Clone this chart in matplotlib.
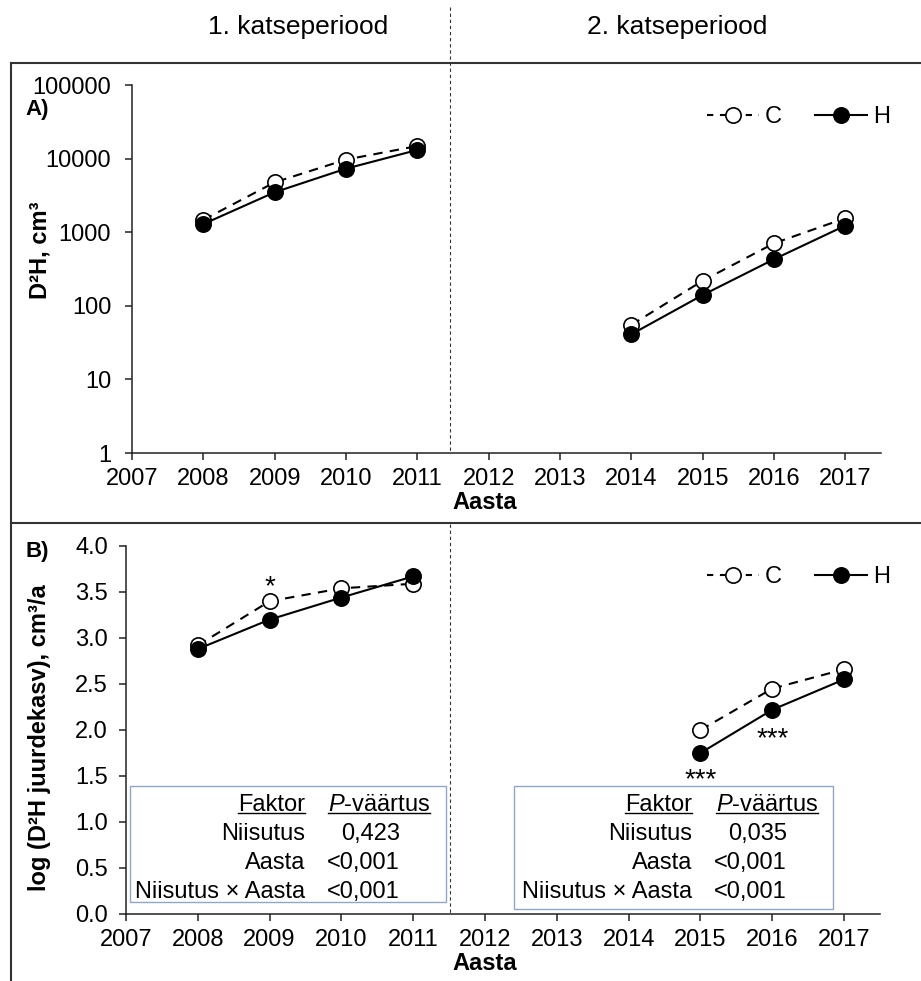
"""Tree size (D2H) and its yearly increment for the two study periods."""

import matplotlib
matplotlib.use("Agg")
import matplotlib.pyplot as plt
from matplotlib.lines import Line2D
from matplotlib.patches import Rectangle


W, H = 921, 981

years_p1 = [2008, 2009, 2010, 2011]
years_p2 = [2014, 2015, 2016, 2017]
d2h_c_p1 = [1470, 4760, 9700, 14800]
d2h_h_p1 = [1290, 3490, 7300, 13100]
d2h_c_p2 = [55, 219, 706, 1550]
d2h_h_p2 = [41, 140, 429, 1230]

growth_years_p2 = [2015, 2016, 2017]
growth_c_p1 = [2.92, 3.40, 3.54, 3.59]
growth_h_p1 = [2.88, 3.20, 3.44, 3.67]
growth_c_p2 = [2.00, 2.45, 2.66]
growth_h_p2 = [1.75, 2.22, 2.55]

year_ticks = list(range(2007, 2018))
d2h_ticks = [1, 10, 100, 1000, 10000, 100000]
growth_ticks = [0.0, 0.5, 1.0, 1.5, 2.0, 2.5, 3.0, 3.5, 4.0]

period_titles = ["1. katseperiood", "2. katseperiood"]
factors = ["Niisutus", "Aasta", "Niisutus × Aasta"]
p_values_p1 = ["0,423", "<0,001", "<0,001"]
p_values_p2 = ["0,035", "<0,001", "<0,001"]

FS = 17

KW_C = dict(color="black", lw=1.5, ls="--", dashes=(4.5, 3.5), marker="o", ms=11,
            mfc="white", mec="black", mew=1.2)
KW_H = dict(color="black", lw=1.5, ls="-", marker="o", ms=11,
            mfc="black", mec="black", mew=1.2)


def fx(x):
    return x / W


def fy(y):
    return 1 - y / H


def style_axis(ax):
    for side in ("top", "right"):
        ax.spines[side].set_visible(False)
    for side in ("left", "bottom"):
        ax.spines[side].set_linewidth(1.1)
        ax.spines[side].set_color("#222222")
    ax.tick_params(direction="out", length=5, width=1.1, color="#222222", labelsize=FS)
    ax.tick_params(axis="x", pad=6)
    ax.set_xlim(2007, 2017.5)
    ax.set_xticks(year_ticks)


def plot_pair(ax, x1, c1, h1, x2, c2, h2):
    ax.plot(x1, c1, **KW_C)
    ax.plot(x2, c2, **KW_C)
    ax.plot(x1, h1, **KW_H)
    ax.plot(x2, h2, **KW_H)
    kw_c_leg = dict(KW_C, dashes=(3.0, 3.2))
    handles = [Line2D([], [], **kw_c_leg), Line2D([], [], **KW_H)]
    ax.legend(handles, ["C", "H"], loc="center right", ncol=2, frameon=False, fontsize=FS,
              handlelength=2.2, handletextpad=0.25, columnspacing=1.4,
              borderpad=0, borderaxespad=0)


def p_table(fig, renderer, box, col_right, p_left, p_right, values):
    x0, y0, x1, y1 = box
    fig.add_artist(Rectangle((fx(x0), fy(y1)), fx(x1) - fx(x0), fy(y0) - fy(y1),
                             transform=fig.transFigure, fill=False,
                             edgecolor="#8fa6c9", lw=1.0))
    base = [811, 840, 869, 898]
    head_f = fig.text(fx(col_right), fy(base[0]), "Faktor", ha="right", va="baseline", fontsize=FS)
    head_p = fig.text(fx(p_left), fy(base[0]), r"$\it{P}$-väärtus", ha="left", va="baseline", fontsize=FS)
    for name, val, b in zip(factors, values, base[1:]):
        fig.text(fx(col_right), fy(b), name, ha="right", va="baseline", fontsize=FS)
        fig.text(fx(p_right), fy(b), val, ha="right", va="baseline", fontsize=FS)
    for t in (head_f, head_p):
        bb = t.get_window_extent(renderer)
        fig.add_artist(Line2D([bb.x0 / W, bb.x1 / W], [fy(base[0] + 2)] * 2,
                              transform=fig.transFigure, color="black", lw=1.0))


def main():
    plt.rcParams.update({
        "font.family": "Liberation Sans", "font.size": FS,
        "mathtext.fontset": "custom", "mathtext.rm": "Liberation Sans",
        "mathtext.it": "Liberation Sans:italic", "mathtext.bf": "Liberation Sans:bold",
    })
    fig = plt.figure(figsize=(W / 100, H / 100), dpi=100)

    # A) stem volume index
    ax_a = fig.add_axes([fx(132), fy(453), fx(881) - fx(132), fy(85) - fy(453)])
    plot_pair(ax_a, years_p1, d2h_c_p1, d2h_h_p1, years_p2, d2h_c_p2, d2h_h_p2)
    ax_a.set_yscale("log")
    ax_a.set_ylim(1, 100000)
    ax_a.set_yticks(d2h_ticks, labels=[str(v) for v in d2h_ticks])
    ax_a.minorticks_off()
    style_axis(ax_a)
    ax_a.tick_params(axis="y", pad=10)
    ax_a.get_legend().set_bbox_to_anchor((fx(890), fy(117)), transform=fig.transFigure)

    # B) yearly increment
    ax_b = fig.add_axes([fx(126), fy(914), fx(880) - fx(126), fy(546) - fy(914)])
    plot_pair(ax_b, years_p1, growth_c_p1, growth_h_p1,
              growth_years_p2, growth_c_p2, growth_h_p2)
    ax_b.set_ylim(0, 4)
    ax_b.set_yticks(growth_ticks, labels=[f"{v:.1f}" for v in growth_ticks])
    style_axis(ax_b)
    ax_b.tick_params(axis="y", pad=8)
    ax_b.get_legend().set_bbox_to_anchor((fx(890), fy(577)), transform=fig.transFigure)

    star_kw = dict(textcoords="offset pixels", ha="center", va="center", fontsize=20)
    ax_b.annotate("*", (2009, growth_c_p1[1]), xytext=(0, 14), **star_kw)
    ax_b.annotate("***", (2015, growth_h_p2[0]), xytext=(0, -27), **star_kw)
    ax_b.annotate("***", (2016, growth_h_p2[1]), xytext=(0, -29), **star_kw)

    # axis titles and panel letters
    fig.text(fx(40), fy(250), "D²H, cm³", rotation=90, ha="center", va="center",
             fontsize=FS, fontweight="bold")
    fig.text(fx(40), fy(738), "log (D²H juurdekasv), cm³/a", rotation=90, ha="center",
             va="center", fontsize=FS, fontweight="bold")
    fig.text(fx(485), fy(502), "Aasta", ha="center", va="center", fontsize=FS, fontweight="bold")
    fig.text(fx(485), fy(963), "Aasta", ha="center", va="center", fontsize=FS, fontweight="bold")
    fig.text(fx(25), fy(110), "A)", ha="left", va="center", fontsize=FS - 1, fontweight="bold")
    fig.text(fx(25), fy(552), "B)", ha="left", va="center", fontsize=FS - 1, fontweight="bold")
    fig.text(fx(298), fy(27), period_titles[0], ha="center", va="center", fontsize=19)
    fig.text(fx(677), fy(27), period_titles[1], ha="center", va="center", fontsize=19)

    # panel frames and the period divider
    frame = dict(transform=fig.transFigure, color="#333333", lw=1.5)
    fig.add_artist(Line2D([fx(11), 1], [fy(63)] * 2, **frame))
    fig.add_artist(Line2D([fx(11), 1], [fy(523)] * 2, **frame))
    fig.add_artist(Line2D([fx(11)] * 2, [fy(63), 0], **frame))
    div = dict(transform=fig.transFigure, color="#333333", lw=0.8, ls=(0, (3, 2.5)))
    fig.add_artist(Line2D([fx(450)] * 2, [fy(7), fy(453)], **div))
    fig.add_artist(Line2D([fx(450)] * 2, [fy(524), fy(914)], **div))

    renderer = fig.canvas.get_renderer()
    p_table(fig, renderer, (130, 786, 446, 902), 305, 328, 400, p_values_p1)
    p_table(fig, renderer, (514, 786, 833, 909), 692, 716, 787, p_values_p2)

    fig.savefig("out.png", dpi=100)
    plt.close(fig)


if __name__ == "__main__":
    main()
